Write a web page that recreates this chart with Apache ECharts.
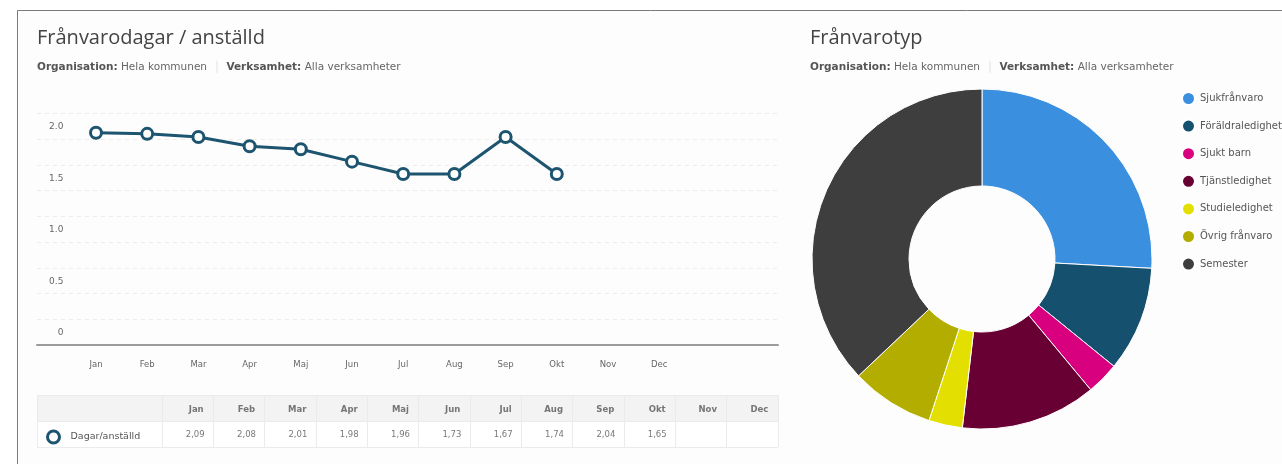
<!DOCTYPE html>
<html><head><meta charset="utf-8">
<script src="https://cdn.jsdelivr.net/npm/echarts@6/dist/echarts.min.js"></script>
<style>html,body{margin:0;padding:0;background:#fff}#c{width:1282px;height:464px}</style>
</head><body><div id="c"></div>
<script>
const months = ['Jan','Feb','Mar','Apr','Maj','Jun','Jul','Aug','Sep','Okt','Nov','Dec'];
const lineValues = [2.06,2.05,2.02,1.93,1.90,1.78,1.66,1.66,2.02,1.66];
const tableValues = [2.09,2.08,2.01,1.98,1.96,1.73,1.67,1.74,2.04,1.65,null,null];
const seriesName = 'Dagar/anställd';
const pieNames = ['Sjukfrånvaro','Föräldraledighet','Sjukt barn','Tjänstledighet','Studieledighet','Övrig frånvaro','Semester'];
const pieValues = [25.9,10.0,3.1,12.9,3.2,7.9,37.1];
const pieColors = ['#3a8fdf','#15506f','#d8007e','#690033','#e3df00','#b3ad00','#3e3e3e'];
const titleLeft = 'Frånvarodagar / anställd';
const titleRight = 'Frånvarotyp';
const subtitle = '{b|Organisation:} Hela kommunen  {s|\u2502}  {b|Verksamhet:} Alla verksamheter';

const FONT = 'DejaVu Sans';
const chart = echarts.init(document.getElementById('c'));
const subStyle = {fontFamily: FONT, fontSize: 10.5, color: '#666', fontWeight: 'normal',
  rich: {b: {fontFamily: FONT, fontSize: 10.5, fontWeight: 'bold', color: '#555'}, s: {fontSize: 10, color: '#ddd'}}};
const titleStyle = {fontFamily: 'Open Sans', fontSize: 20, color: '#444', fontWeight: 'normal'};

const fmtY = v => {
  if (Math.abs(v * 2 - Math.round(v * 2)) > 1e-6) return '';
  return v === 0 ? '0' : v.toFixed(1);
};

chart.setOption({
  animation: false,
  backgroundColor: '#fff',
  graphic: [{type: 'rect', z: -10, shape: {x: 17.5, y: 10.5, width: 1400, height: 600},
    style: {fill: '#fdfdfd', stroke: '#7a7a7a', lineWidth: 1}}],
  title: [
    {text: titleLeft, left: 32, top: 23, textStyle: titleStyle},
    {text: subtitle, left: 32, top: 57, textStyle: subStyle},
    {text: titleRight, left: 805, top: 23, textStyle: titleStyle},
    {text: subtitle, left: 805, top: 57, textStyle: subStyle}
  ],
  legend: [
    {data: [seriesName], left: 46, top: 429.5, icon: 'circle', itemWidth: 12, itemHeight: 12, itemGap: 8,
      itemStyle: {color: '#fff', borderColor: '#1d5470', borderWidth: 3},
      textStyle: {fontFamily: FONT, fontSize: 9.5, color: '#555', padding: [0,0,0,6]}, selectedMode: false, padding: 0},
    {data: pieNames, orient: 'vertical', left: 1181, top: 91, icon: 'circle', itemWidth: 13, itemHeight: 13,
      itemGap: 12.6, textStyle: {fontFamily: FONT, fontSize: 10, color: '#555', lineHeight: 13}, selectedMode: false, padding: 0}
  ],
  grid: [
    {left: 37, width: 741, top: 113.25, height: 231.75},
    {left: 70.4, width: 614.4, top: 113.25, height: 231.75},
    {left: 162, width: 616, top: 395, height: 52},
    {left: 37, width: 125, top: 395, height: 52}
  ],
  xAxis: [
    {gridIndex: 0, type: 'value', min: 0, max: 1, axisLine: {show: true, lineStyle: {color: '#9b9b9b', width: 2}},
      axisTick: {show: false}, axisLabel: {show: false}, splitLine: {show: false}},
    {gridIndex: 1, type: 'category', data: months, boundaryGap: true, axisLine: {show: false}, axisTick: {show: false},
      axisLabel: {fontFamily: FONT, fontSize: 8.5, color: '#666', margin: 15}},
    {gridIndex: 2, type: 'category', data: months, boundaryGap: true, axisLine: {show: false}, axisTick: {show: false},
      axisLabel: {show: false}, splitLine: {show: true, interval: 0, lineStyle: {color: '#ebebeb'}}},
    {gridIndex: 3, type: 'category', data: [''], axisLine: {show: false}, axisTick: {show: false},
      axisLabel: {show: false}, splitLine: {show: true, lineStyle: {color: '#ebebeb'}}}
  ],
  yAxis: [
    {gridIndex: 0, type: 'value', min: 0, max: 2.25, interval: 0.25, axisLine: {show: false}, axisTick: {show: false},
      axisLabel: {show: false}, splitLine: {show: true, lineStyle: {color: '#ececec', type: [4, 4]}}},
    {gridIndex: 1, type: 'value', min: 0, max: 2.25, interval: 0.25, axisLine: {show: false}, axisTick: {show: false},
      splitLine: {show: false},
      axisLabel: {formatter: fmtY, fontFamily: FONT, fontSize: 9, color: '#666', margin: 7,
        verticalAlign: 'bottom', lineHeight: 24}},
    {gridIndex: 2, type: 'category', data: ['header', 'data'], inverse: true, axisLine: {show: false}, axisTick: {show: false},
      axisLabel: {show: false}, splitLine: {show: true, lineStyle: {color: '#ebebeb'}},
      splitArea: {show: true, areaStyle: {color: ['#f3f3f3', '#ffffff']}}},
    {gridIndex: 3, type: 'category', data: ['header', 'data'], inverse: true, axisLine: {show: false}, axisTick: {show: false},
      axisLabel: {show: false}, splitLine: {show: true, lineStyle: {color: '#ebebeb'}},
      splitArea: {show: true, areaStyle: {color: ['#f3f3f3', '#ffffff']}}}
  ],
  series: [
    {name: seriesName, type: 'line', xAxisIndex: 1, yAxisIndex: 1, data: lineValues,
      symbol: 'circle', symbolSize: 11, color: '#1d5470',
      lineStyle: {width: 3, color: '#1d5470'},
      itemStyle: {color: '#fff', borderColor: '#1d5470', borderWidth: 3}},
    {name: 'header', type: 'scatter', xAxisIndex: 2, yAxisIndex: 2, symbolSize: 1, itemStyle: {color: 'transparent'},
      data: months.map(m => [m, 'header']),
      label: {show: true, position: 'inside', align: 'right', offset: [16, 2], formatter: p => p.value[0],
        fontFamily: FONT, fontSize: 8.5, fontWeight: 'bold', color: '#555'}},
    {name: 'values', type: 'scatter', xAxisIndex: 2, yAxisIndex: 2, symbolSize: 1, itemStyle: {color: 'transparent'},
      data: tableValues.map((v, i) => [months[i], 'data', v]).filter(d => d[2] !== null),
      label: {show: true, position: 'inside', align: 'right', offset: [17, 1],
        formatter: p => p.value[2].toFixed(2).replace('.', ','),
        fontFamily: FONT, fontSize: 8.5, color: '#555'}},
    {name: 'Frånvarotyp', type: 'pie', center: [982, 259], radius: [73, 170], startAngle: 90, clockwise: true,
      label: {show: false}, labelLine: {show: false}, emphasis: {disabled: true},
      itemStyle: {borderColor: '#fff', borderWidth: 1},
      data: pieNames.map((n, i) => ({name: n, value: pieValues[i], itemStyle: {color: pieColors[i]}}))}
  ]
});
</script></body></html>
